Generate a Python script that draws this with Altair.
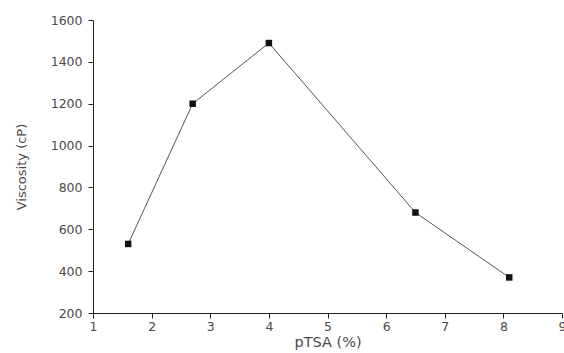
import altair as alt
import pandas as pd

# pTSA concentration (%) and measured viscosity (cP)
ptsa = [1.6, 2.7, 4.0, 6.5, 8.1]
viscosity = [530, 1200, 1490, 680, 370]

# major ticks are labelled, the ones in between are short inward minor ticks
x_ticks = [1, 1.5, 2, 2.5, 3, 3.5, 4, 4.5, 5, 5.5, 6, 6.5, 7, 7.5, 8, 8.5, 9]
y_ticks = [200, 300, 400, 500, 600, 700, 800, 900, 1000, 1100, 1200, 1300,
           1400, 1500, 1600]

df = pd.DataFrame({"ptsa": ptsa, "viscosity": viscosity})

FONT = "DejaVu Sans"
INK = "#222222"
TXT = "#4a4a4a"

xs = alt.Scale(domain=[1, 9], nice=False, zero=False)
ys = alt.Scale(domain=[200, 1600], nice=False, zero=False)

x_axis = alt.Axis(values=x_ticks, format="d", grid=False,
                  tickSize=alt.ExprRef(expr="datum.value % 1 === 0 ? 5 : -3"),
                  labelExpr="datum.value % 1 === 0 ? datum.label : ''",
                  domainColor=INK, tickColor=INK, labelColor=TXT, labelFont=FONT,
                  labelFontSize=12.5, labelPadding=2, labelFlush=False,
                  title="pTSA (%)", titleFont=FONT, titleFontSize=14.5,
                  titleFontWeight="normal", titleColor=TXT, titlePadding=3)
y_axis = alt.Axis(values=y_ticks, format="d", grid=False,
                  tickSize=alt.ExprRef(expr="datum.value % 200 === 0 ? 5 : -3"),
                  labelExpr="datum.value % 200 === 0 ? datum.label : ''",
                  domainColor=INK, tickColor=INK, labelColor=TXT, labelFont=FONT,
                  labelFontSize=12.5, labelPadding=6, labelFlush=False,
                  title="Viscosity (cP)", titleFont=FONT, titleFontSize=13,
                  titleFontWeight="normal", titleColor=TXT, titlePadding=22)

line = alt.Chart(df).mark_line(color="#555555", strokeWidth=1).encode(
    x=alt.X("ptsa:Q", scale=xs, axis=x_axis),
    y=alt.Y("viscosity:Q", scale=ys, axis=y_axis),
)

points = alt.Chart(df).mark_square(color="#111111", size=42, opacity=1).encode(
    x=alt.X("ptsa:Q", scale=xs),
    y=alt.Y("viscosity:Q", scale=ys),
)

chart = alt.layer(line, points).properties(
    width=469, height=293,
    autosize=alt.AutoSizeParams(type="none"),
    padding={"left": 93, "top": 20, "right": 2, "bottom": 40},
    background="white",
).configure_view(stroke=None)

chart.save("out.html", embed_options={"renderer": "svg", "actions": False})
